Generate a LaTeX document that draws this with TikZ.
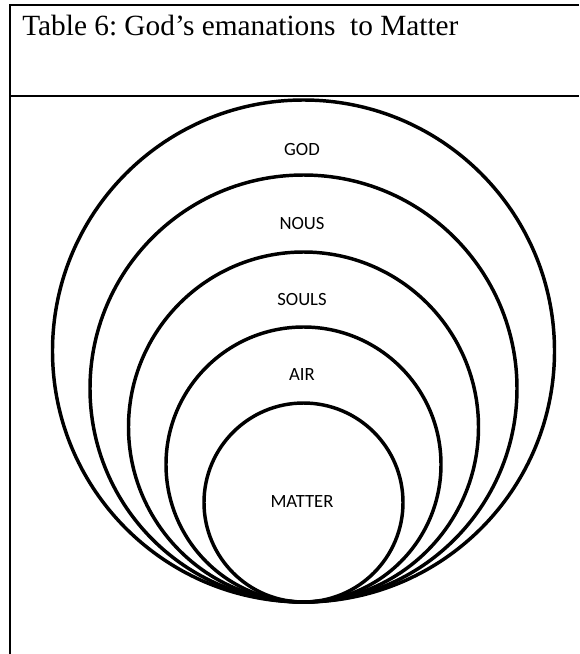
\documentclass[tikz,border=0pt]{standalone}
\usepackage{fontspec}
\setmainfont{Liberation Serif}
\newfontfamily\ringfont{Carlito}
\usepackage{tikz}
\frenchspacing

\begin{document}
\begin{tikzpicture}[x=0.75pt, y=-0.75pt]

	% --- STYLES ---
	\tikzstyle{frame} = [draw=black, line width=1.7pt]
	\tikzstyle{ring} = [draw=black, line width=2.6pt]
	\tikzstyle{caption} = [anchor=base west, inner sep=0pt, font=\fontsize{22}{26}\selectfont]
	\tikzstyle{layer} = [inner sep=0pt, text depth=0pt, font=\ringfont\fontsize{14}{17}\selectfont]

	\useasboundingbox (0,0) rectangle (579,654);

	% --- TABLE FRAME ---
	\draw [frame] (579,5) -- (10,5) -- (10,654);
	\draw [frame] (10,96) -- (579,96);
	\node (title) [caption] at (22,35) {Table 6: God’s emanations\ \ to Matter};

	% --- CIRCLES (all touching at the bottom) ---
	\coordinate (base) at (303.5,602);
	\draw [ring] (base) ++(0,-251)   circle [radius=251];
	\draw [ring] (base) ++(0,-213.5) circle [radius=213.5];
	\draw [ring] (base) ++(0,-175)   circle [radius=175];
	\draw [ring] (base) ++(0,-137.5) circle [radius=137.5];
	\draw [ring] (base) ++(0,-99.5)  circle [radius=99.5];

	% --- LABELS ---
	\node (god)    [layer] at (302,149) {GOD};
	\node (nous)   [layer] at (302,223) {NOUS};
	\node (souls)  [layer] at (302,299) {SOULS};
	\node (air)    [layer] at (302,375) {AIR};
	\node (matter) [layer] at (302,502) {MATTER};

\end{tikzpicture}
\end{document}
